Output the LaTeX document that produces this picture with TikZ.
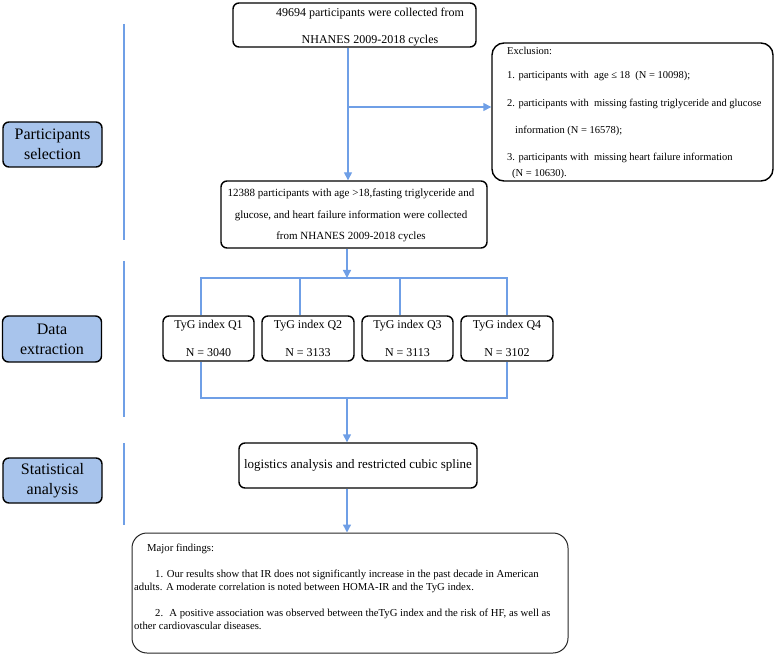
\documentclass[tikz,border=0pt]{standalone}
\usepackage{fontspec}
\setmainfont{Liberation Serif}
\usetikzlibrary{arrows.meta,calc}
\definecolor{connc}{HTML}{6F9FE6}
\definecolor{labfill}{HTML}{A8C4EC}
\begin{document}
\begin{tikzpicture}[x=1pt,y=-1pt,
  box/.style={draw=black, line width=1.4pt, rounded corners=6pt, inner sep=0pt},
  lab/.style={box, fill=labfill, minimum width=99pt, minimum height=45pt, align=center, font=\fontsize{16}{20}\selectfont},
  qbox/.style={box, minimum width=91pt, minimum height=45pt, align=center, font=\fontsize{12}{28}\selectfont},
  conn/.style={draw=connc, line width=1.4pt},
  arr/.style={conn, -{Triangle[length=8pt,width=8pt]}},
  sepline/.style={draw=connc, line width=1.2pt},
  txt/.style={inner sep=0pt, align=center}]
\useasboundingbox (0,0) rectangle (777,655);

% left labels
\node[lab] (ps) at (52.5,144.5) {Participants\\selection};
\node[lab, minimum height=46pt] (de) at (52,339) {Data\\extraction};
\node[lab] (sa) at (52.5,480.5) {Statistical\\analysis};

% separators
\coordinate (s1a) at (124,24);  \coordinate (s1b) at (124,240);
\coordinate (s2a) at (124,261); \coordinate (s2b) at (124,417);
\coordinate (s3a) at (124,443); \coordinate (s3b) at (124,525);
\draw[sepline] (s1a) -- (s1b);
\draw[sepline] (s2a) -- (s2b);
\draw[sepline] (s3a) -- (s3b);

% top box
\node[box, minimum width=243pt, minimum height=44pt] (top) at (354.5,25) {};
\node[txt, font=\fontsize{12}{27}\selectfont] (toptxt) at (370,27.5) {49694 participants were collected from\\NHANES 2009-2018 cycles};

% exclusion box
\node[box, rounded corners=12pt, minimum width=281pt, minimum height=138pt] (exc) at (632.5,112) {};
\node[txt, align=left, anchor=north west, font=\fontsize{10.5}{27}\selectfont] (exctxt) at (507,47.4)
  {Exclusion:\\[-3pt]
   1. participants with~ age ≤ 18~ (N = 10098);\\[1pt]
   2. participants with~ missing fasting triglyceride and glucose\\
   \hspace*{8pt}information (N = 16578);\\
   3. participants with~ missing heart failure information\\[-11pt]
   \hspace*{5pt}(N = 10630).};

% selected box
\node[box, minimum width=266pt, minimum height=67pt] (sel) at (354,214.5) {};
\node[txt, font=\fontsize{11}{21.5}\selectfont] (seltxt) at (351,215.6)
  {12388 participants with age >18,fasting triglyceride and\\glucose, and heart failure information were collected\\from NHANES 2009-2018 cycles};

% quartile boxes
\node[qbox] (q1) at (208.5,338.5) {TyG index Q1\\N = 3040};
\node[qbox, minimum width=92pt] (q2) at (308,338.5) {TyG index Q2\\N = 3133};
\node[qbox] (q3) at (407.5,338.5) {TyG index Q3\\N = 3113};
\node[qbox, minimum width=92pt] (q4) at (507,338.5) {TyG index Q4\\N = 3102};

% statistical box
\node[box, minimum width=238pt, minimum height=45pt, font=\fontsize{13}{16}\selectfont] (stat) at (358,465.5) {logistics analysis and restricted cubic spline};

% findings box
\node[box, draw=black!85, line width=1pt, rounded corners=15pt, minimum width=436pt, minimum height=120pt] (find) at (350,593) {};
\node[txt, align=left, anchor=north west, font=\fontsize{10.7}{13}\selectfont] (findtxt) at (134,544.2)
  {\hspace*{13pt}Major findings:\\[13pt]
   \hspace*{21pt}1. Our results show that IR does not significantly increase in the past decade in American\\
   adults. A moderate correlation is noted between HOMA-IR and the TyG index.\\[13pt]
   \hspace*{21pt}2.~ A positive association was observed between theTyG index and the risk of HF, as well as\\
   other cardiovascular diseases.};

% connectors
\coordinate (spine) at (348,107);
\draw[arr] (top.south -| spine) -- (sel.north -| spine);
\draw[arr] (spine) -- (spine -| exc.west);

\coordinate (b0) at (347,278);
\coordinate (b1) at (201,278);
\coordinate (b2) at (300,278);
\coordinate (b3) at (400,278);
\coordinate (b4) at (507,278);
\draw[arr] (sel.south -| b0) -- (b0);
\draw[conn] (q1.north -| b1) -- (b1) -- (b4) -- (q4.north -| b4);
\draw[conn] (b2) -- (q2.north -| b2);
\draw[conn] (b3) -- (q3.north -| b3);

\coordinate (c0) at (347,398);
\coordinate (c1) at (201,398);
\coordinate (c4) at (507,398);
\draw[conn] (q1.south -| c1) -- (c1) -- (c4) -- (q4.south -| c4);
\draw[arr] (c0) -- (stat.north -| c0);
\draw[arr] (stat.south -| c0) -- (find.north -| c0);
\end{tikzpicture}
\end{document}
